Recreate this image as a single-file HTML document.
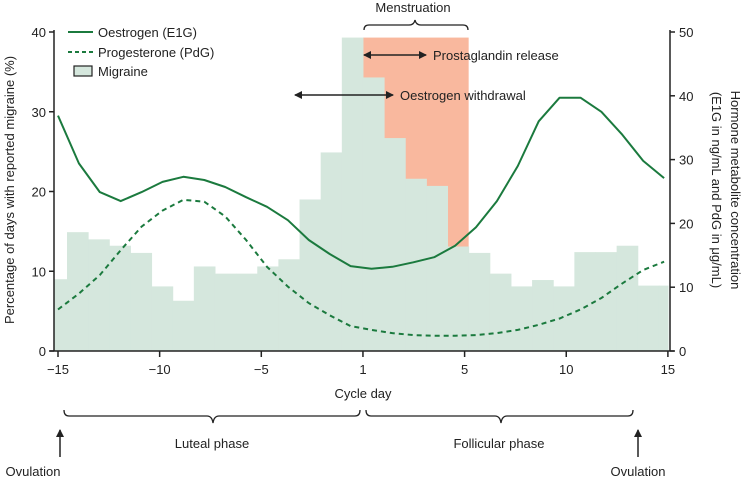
<!DOCTYPE html>
<html><head><meta charset="utf-8"><style>
html,body{margin:0;padding:0;background:#fff;}
svg{display:block;font-family:"Liberation Sans",sans-serif;}
</style></head><body>
<svg id="chart" width="743" height="480" viewBox="0 0 743 480"></svg>
<script>
// Data
const migrainePct = [9.0,14.9,14.0,13.2,12.3,8.1,6.3,10.6,9.7,9.7,10.6,11.5,19.0,24.9,39.3,34.3,26.7,21.6,20.7,13.1,12.3,9.7,8.1,8.9,8.1,12.4,12.4,13.2,8.2,8.2];
const oestrogen = [36.9,29.4,24.9,23.5,24.9,26.5,27.3,26.8,25.7,24.1,22.6,20.5,17.4,15.2,13.3,12.9,13.2,13.9,14.7,16.5,19.4,23.5,29.0,36.0,39.7,39.7,37.5,33.9,29.8,27.1];
const progesterone = [6.5,9.0,11.9,15.8,19.5,22.0,23.7,23.4,21.1,17.4,13.2,10.1,7.5,5.6,3.9,3.3,2.8,2.5,2.4,2.4,2.5,2.8,3.3,4.1,5.1,6.5,8.3,10.6,12.7,14.0];
const xTickDays = [-15,-10,-5,0,5,10,15];
const xTickLabels = ["\u221215","\u221210","\u22125","1","5","10","15"];
const leftTicks = [0,10,20,30,40];
const rightTicks = [0,10,20,30,40,50];
const menstruationBins = [15,19];

const NS="http://www.w3.org/2000/svg";
const svg=document.getElementById('chart');
const L=54,R=670,T=32,B=351;
const xDay=d=>58+(d+15)*20.33;
const yL=v=>B-(v/40)*(B-T);
const yR=v=>B-(v/50)*(B-T);
const binEdge=i=>Math.max(L,Math.min(R-2,67+(i-1)*21.14));
const xPt=i=>58+i*20.9;
function mk(tag,attrs,parent){const e=document.createElementNS(NS,tag);for(const k in attrs)e.setAttribute(k,attrs[k]);(parent||svg).appendChild(e);return e;}
function txt(s,x,y,attrs){const e=mk('text',Object.assign({x:x,y:y,'font-size':13,fill:'#222'},attrs||{}));e.textContent=s;return e;}

const pg=mk('rect',{x:binEdge(menstruationBins[0]),y:yL(migrainePct[14]),width:binEdge(menstruationBins[1]+1)-binEdge(menstruationBins[0]),height:B-yL(migrainePct[14]),fill:'#f9b89e'});



migrainePct.forEach((v,i)=>{
  const x0=binEdge(i),x1=binEdge(i+1);
  const r=mk('rect',{x:x0,y:yL(v),width:x1-x0+0.5,height:B-yL(v),fill:'#d5e7dd'});
  
  
});

function pts(arr){return arr.map((v,i)=>xPt(i).toFixed(1)+','+yR(v).toFixed(1)).join(' ');}
const oe=mk('polyline',{points:pts(oestrogen),fill:'none',stroke:'#1b7a3e','stroke-width':2,'stroke-linejoin':'round'});


const pr=mk('polyline',{points:pts(progesterone),fill:'none',stroke:'#1b7a3e','stroke-width':2,'stroke-dasharray':'5,4'});



mk('line',{x1:L,y1:T-2,x2:L,y2:B,stroke:'#222','stroke-width':1.5,});
mk('line',{x1:R,y1:T-2,x2:R,y2:B,stroke:'#222','stroke-width':1.5,});
mk('line',{x1:L-4,y1:B,x2:R+4,y2:B,stroke:'#222','stroke-width':1.5,});
xTickDays.forEach((d,i)=>{
  mk('line',{x1:xDay(d),y1:B,x2:xDay(d),y2:B+6,stroke:'#222','stroke-width':1.5});
  const t=txt(xTickLabels[i],xDay(d),374,{'text-anchor':'middle'});
  
  
});
leftTicks.forEach(v=>{
  mk('line',{x1:L-5,y1:yL(v),x2:L,y2:yL(v),stroke:'#222','stroke-width':1.5});
  const t=txt(String(v),L-8,yL(v)+5,{'text-anchor':'end'});
  
  
});
rightTicks.forEach(v=>{
  mk('line',{x1:R,y1:yR(v),x2:R+5,y2:yR(v),stroke:'#222','stroke-width':1.5});
  const t=txt(String(v),R+9,yR(v)+5,{'text-anchor':'start'});
  
  
});
</script>
<svg width="743" height="480" style="position:absolute;left:0;top:0;font-family:'Liberation Sans',sans-serif">
<defs><marker id="ah" markerWidth="8" markerHeight="8" refX="7" refY="4" orient="auto-start-reverse" markerUnits="userSpaceOnUse"><path d="M0,0 L8,4 L0,8 z" fill="#222"/></marker></defs>
<text x="14" y="190" font-size="13" fill="#222" text-anchor="middle" transform="rotate(-90 14 190)">Percentage of days with reported migraine (%)</text>
<text x="731" y="190" font-size="13" fill="#222" text-anchor="middle" transform="rotate(90 731 190)">Hormone metabolite concentration</text>
<text x="712" y="190" font-size="13" fill="#222" text-anchor="middle" transform="rotate(90 712 190)">(E1G in ng/mL and PdG in μg/mL)</text>
<g>
<line x1="68" y1="32" x2="93" y2="32" stroke="#1b7a3e" stroke-width="2"/>
<text x="98" y="37" font-size="13" fill="#222">Oestrogen (E1G)</text>
<line x1="68" y1="52" x2="93" y2="52" stroke="#1b7a3e" stroke-width="2" stroke-dasharray="4,3"/>
<text x="98" y="57" font-size="13" fill="#222">Progesterone (PdG)</text>
<rect x="74" y="66" width="18" height="10" fill="#d5e7dd" stroke="#222" stroke-width="1.2"/>
<text x="98" y="76" font-size="13" fill="#222">Migraine</text>
</g>
<text x="413" y="12" font-size="13" fill="#222" text-anchor="middle">Menstruation</text>
<path d="M364,30 Q364,25 369,25 L409,25 Q414,25 415,20 Q416,25 421,25 L463,25 Q468,25 468,30" fill="none" stroke="#222" stroke-width="1.3"/>
<line x1="364" y1="55" x2="426" y2="55" stroke="#222" stroke-width="1.5" marker-start="url(#ah)" marker-end="url(#ah)"/>
<text x="433" y="60" font-size="13" fill="#222">Prostaglandin release</text>
<line x1="295" y1="95" x2="393" y2="95" stroke="#222" stroke-width="1.5" marker-start="url(#ah)" marker-end="url(#ah)"/>
<text x="400" y="100" font-size="13" fill="#222">Oestrogen withdrawal</text>
<text x="363" y="398" font-size="13" fill="#222" text-anchor="middle">Cycle day</text>
<path d="M64,410 Q64,416 69,416 L207,416 Q212,416 213,423 Q214,416 219,416 L355,416 Q360,416 360,410" fill="none" stroke="#222" stroke-width="1.3"/>
<path d="M366,410 Q366,416 371,416 L495,416 Q500,416 501,423 Q502,416 507,416 L628,416 Q633,416 633,410" fill="none" stroke="#222" stroke-width="1.3"/>
<text x="212" y="448" font-size="13" fill="#222" text-anchor="middle">Luteal phase</text>
<text x="499" y="448" font-size="13" fill="#222" text-anchor="middle">Follicular phase</text>
<line x1="60" y1="457" x2="60" y2="430" stroke="#222" stroke-width="1.5" marker-end="url(#ah)"/>
<line x1="638" y1="457" x2="638" y2="430" stroke="#222" stroke-width="1.5" marker-end="url(#ah)"/>
<text x="33" y="476" font-size="13" fill="#222" text-anchor="middle">Ovulation</text>
<text x="638" y="476" font-size="13" fill="#222" text-anchor="middle">Ovulation</text>
</svg>
</body></html>
